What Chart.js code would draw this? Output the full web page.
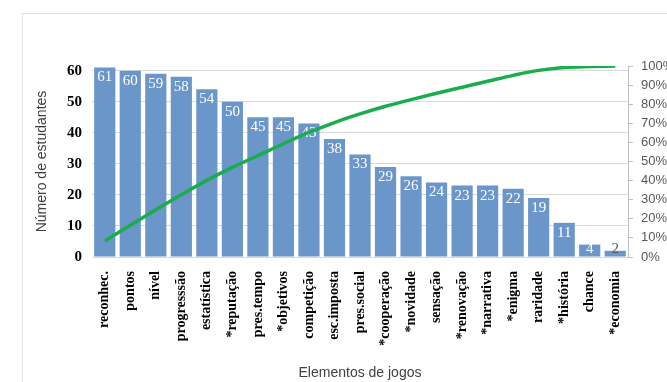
<!DOCTYPE html>
<html>
<head>
<meta charset="utf-8">
<script src="https://cdn.jsdelivr.net/npm/chart.js@4/dist/chart.umd.min.js"></script>
<style>
  body { margin: 0; background: #fff; overflow: hidden; }
  #wrap { position: relative; width: 667px; height: 382px; }
  #frame { position: absolute; left: 22px; top: 13px; width: 700px; height: 400px; border: 1px solid #e2e2e2; }
  canvas { position: absolute; left: 0; top: 0; }
</style>
</head>
<body>
<div id="wrap">
  <div id="frame"></div>
  <canvas id="paretoChart" width="667" height="382"></canvas>
</div>
<script>
// categories (game elements) and number of students
const elementos = ["reconhec.", "pontos", "nível", "progresssão", "estatística", "*reputação",
  "pres.tempo", "*objetivos", "competição", "esc.imposta", "pres.social", "*cooperação",
  "*novidade", "sensação", "*renovação", "*narrativa", "*enigma", "raridade", "*história",
  "chance", "*economia"];
const estudantes = [61, 60, 59, 58, 54, 50, 45, 45, 43, 38, 33, 29, 26, 24, 23, 23, 22, 19, 11, 4, 2];
// cumulative percentage
const acumulado = [8.4, 16.6, 24.7, 32.6, 40.1, 46.9, 53.1, 59.3, 65.2, 70.4, 74.9, 78.9,
  82.4, 85.7, 88.9, 92.0, 95.1, 97.7, 99.2, 99.7, 100];

// value labels inside the top of each bar
const barLabels = {
  id: "barLabels",
  afterDatasetDraw(chart, args) {
    if (args.index !== 1) return;
    const ctx = chart.ctx;
    ctx.save();
    ctx.font = "15px 'Liberation Serif'";
    ctx.textAlign = "center";
    ctx.textBaseline = "middle";
    args.meta.data.forEach((bar, i) => {
      const h = bar.base - bar.y;
      const cy = Math.min(bar.y + 10, bar.base - 7.5);
      ctx.fillStyle = h >= 10 ? "#ffffff" : "#595959";
      ctx.fillText(estudantes[i], bar.x, cy);
    });
    ctx.restore();
  }
};

var ctx = document.getElementById("paretoChart").getContext("2d");
new Chart(ctx, {
  data: {
    labels: elementos,
    datasets: [
      {
        type: "line",
        data: acumulado,
        yAxisID: "y1",
        borderColor: "#1aad4c",
        borderWidth: 3.5,
        pointRadius: 0,
        cubicInterpolationMode: "monotone",
        order: 0
      },
      {
        type: "bar",
        data: estudantes,
        yAxisID: "y",
        backgroundColor: "#6b96c9",
        barPercentage: 0.83,
        categoryPercentage: 1,
        order: 1
      }
    ]
  },
  plugins: [barLabels],
  options: {
    responsive: false,
    animation: false,
    layout: { padding: { top: 66, left: 30, right: 0, bottom: 0 } },
    plugins: { legend: { display: false }, tooltip: { enabled: false } },
    scales: {
      x: {
        afterFit: s => { s.height = 125; },
        grid: { display: false },
        border: { display: true, color: "#d9d9d9" },
        ticks: {
          minRotation: 90, maxRotation: 90, autoSkip: false, padding: 6,
          color: "#000", font: { family: "'Liberation Serif'", size: 14, weight: "bold" }
        },
        title: {
          display: true, text: "Elementos de jogos", color: "#404040",
          font: { family: "'Liberation Sans'", size: 14 }, padding: { top: 0, bottom: 0 }
        }
      },
      y: {
        position: "left",
        min: 0, max: 61.5,
        afterFit: s => { s.width = 62; },
        grid: { color: "#d9d9d9", drawTicks: false },
        border: { display: false },
        ticks: {
          stepSize: 10, includeBounds: false, padding: 10, color: "#000",
          font: { family: "'Liberation Serif'", size: 15, weight: "bold" }
        },
        title: {
          display: true, text: "Número de estudantes", color: "#404040",
          font: { family: "'Liberation Sans'", size: 14 }, padding: { top: 4, bottom: 0 }
        }
      },
      y1: {
        position: "right",
        min: 0, max: 100,
        afterFit: s => { s.width = 39; },
        grid: { drawOnChartArea: false, color: "#bfbfbf", tickLength: 5 },
        border: { display: true, color: "#bfbfbf" },
        ticks: {
          stepSize: 10, autoSkip: false, padding: 8, color: "#595959",
          font: { family: "'Liberation Sans'", size: 13 },
          callback: v => v + "%"
        }
      }
    }
  }
});
</script>
</body>
</html>
